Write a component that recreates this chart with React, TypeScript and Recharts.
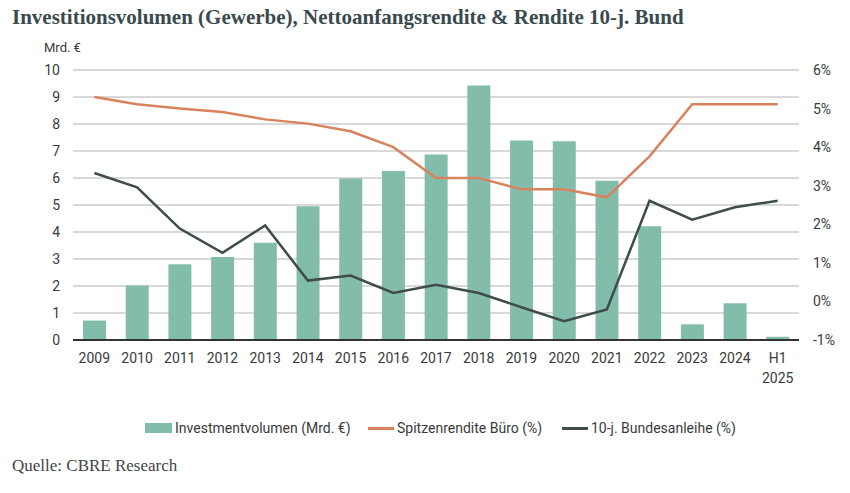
import { Bar, CartesianGrid, ComposedChart, Line, XAxis, YAxis } from "recharts";

const years = [
  "2009", "2010", "2011", "2012", "2013", "2014", "2015", "2016", "2017",
  "2018", "2019", "2020", "2021", "2022", "2023", "2024", "H1\n2025",
];

// Investmentvolumen in Mrd. €
const volume = [0.72, 2.02, 2.81, 3.07, 3.6, 4.95, 5.98, 6.26, 6.87, 9.43, 7.39, 7.36, 5.9, 4.21, 0.58, 1.36, 0.12];

// Spitzenrendite Büro in %
const primeYield = [5.3, 5.11, 5.0, 4.91, 4.72, 4.61, 4.41, 4.0, 3.2, 3.2, 2.91, 2.91, 2.7, 3.76, 5.11, 5.11, 5.11];

// Rendite 10-j. Bundesanleihe in %
const bundYield = [3.33, 2.96, 1.89, 1.26, 1.97, 0.54, 0.67, 0.22, 0.43, 0.22, -0.15, -0.51, -0.21, 2.61, 2.12, 2.44, 2.61];

const leftTicks = [0, 1, 2, 3, 4, 5, 6, 7, 8, 9, 10];
const rightTicks = [-1, 0, 1, 2, 3, 4, 5, 6];

const data = years.map((year, i) => ({
  year,
  volume: volume[i],
  prime: primeYield[i],
  bund: bundYield[i],
}));

const TEAL = "#82bdac";
const ORANGE = "#d9825e";
const DARK = "#3f4c4c";
const TEXT = "#3a3a3a";
const FONT = "Roboto, 'Noto Sans', sans-serif";
const SERIF = "'Liberation Serif', 'Times New Roman', serif";

function YearTick({ x, y, payload }: any) {
  const lines = String(payload.value).split("\n");
  return (
    <text x={x} y={y} textAnchor="middle" fill={TEXT} fontSize={14} fontFamily={FONT}>
      {lines.map((line, i) => (
        <tspan key={i} x={x} dy={i === 0 ? "0.71em" : 20}>
          {line}
        </tspan>
      ))}
    </text>
  );
}

function LegendItem({ left, kind, color, label }: { left: number; kind: "box" | "line"; color: string; label: string }) {
  return (
    <div style={{ position: "absolute", left, top: 419, height: 18, display: "flex", alignItems: "center" }}>
      <span
        style={{
          display: "inline-block",
          width: kind === "box" ? 27 : 26,
          height: kind === "box" ? 10 : 3,
          background: color,
          marginRight: 3,
        }}
      />
      <span style={{ fontFamily: FONT, fontSize: 14, color: TEXT, whiteSpace: "nowrap" }}>{label}</span>
    </div>
  );
}

export default function App() {
  return (
    <div style={{ position: "absolute", left: 0, top: 0, width: 850, height: 493, background: "#fff", overflow: "hidden" }}>
      <div
        style={{
          position: "absolute",
          left: 12,
          top: 5,
          fontFamily: SERIF,
          fontWeight: "bold",
          fontSize: 21,
          color: "#3a4a4d",
          whiteSpace: "nowrap",
        }}
      >
        Investitionsvolumen (Gewerbe), Nettoanfangsrendite &amp; Rendite 10-j. Bund
      </div>
      <div style={{ position: "absolute", left: 44, top: 40, fontFamily: FONT, fontSize: 13, color: TEXT }}>Mrd. €</div>

      <div style={{ position: "absolute", left: 0, top: 0 }}>
        <ComposedChart width={850} height={493} data={data} margin={{ top: 70, right: 6, bottom: 113, left: 33 }}>
          <CartesianGrid yAxisId="left" vertical={false} stroke="#b3b3b3" strokeWidth={1} />
          <XAxis
            dataKey="year"
            interval={0}
            tickLine={false}
            tickSize={0}
            tickMargin={13}
            height={40}
            axisLine={{ stroke: "#333", strokeWidth: 2 }}
            tick={<YearTick />}
          />
          <YAxis
            yAxisId="left"
            domain={[0, 10]}
            ticks={leftTicks}
            width={40}
            axisLine={false}
            tickLine={false}
            tickSize={0}
            tickMargin={13}
            tick={{ fill: TEXT, fontSize: 14, fontFamily: FONT }}
          />
          <YAxis
            yAxisId="right"
            orientation="right"
            domain={[-1, 6]}
            ticks={rightTicks}
            width={45}
            axisLine={false}
            tickLine={false}
            tickSize={0}
            tickMargin={14}
            tickFormatter={(v) => `${v}%`}
            tick={{ fill: TEXT, fontSize: 14, fontFamily: FONT, textAnchor: "start" }}
          />
          <Bar yAxisId="left" dataKey="volume" fill={TEAL} barSize={23} isAnimationActive={false} />
          <Line
            yAxisId="right"
            type="linear"
            dataKey="prime"
            stroke={ORANGE}
            strokeWidth={2.5}
            dot={false}
            isAnimationActive={false}
          />
          <Line
            yAxisId="right"
            type="linear"
            dataKey="bund"
            stroke={DARK}
            strokeWidth={2.5}
            dot={false}
            isAnimationActive={false}
          />
        </ComposedChart>
      </div>

      <LegendItem left={145} kind="box" color={TEAL} label="Investmentvolumen (Mrd. €)" />
      <LegendItem left={368} kind="line" color={ORANGE} label="Spitzenrendite Büro (%)" />
      <LegendItem left={562} kind="line" color={DARK} label="10-j. Bundesanleihe (%)" />

      <div style={{ position: "absolute", left: 12, top: 456, fontFamily: SERIF, fontSize: 17, color: "#444" }}>
        Quelle: CBRE Research
      </div>
    </div>
  );
}
